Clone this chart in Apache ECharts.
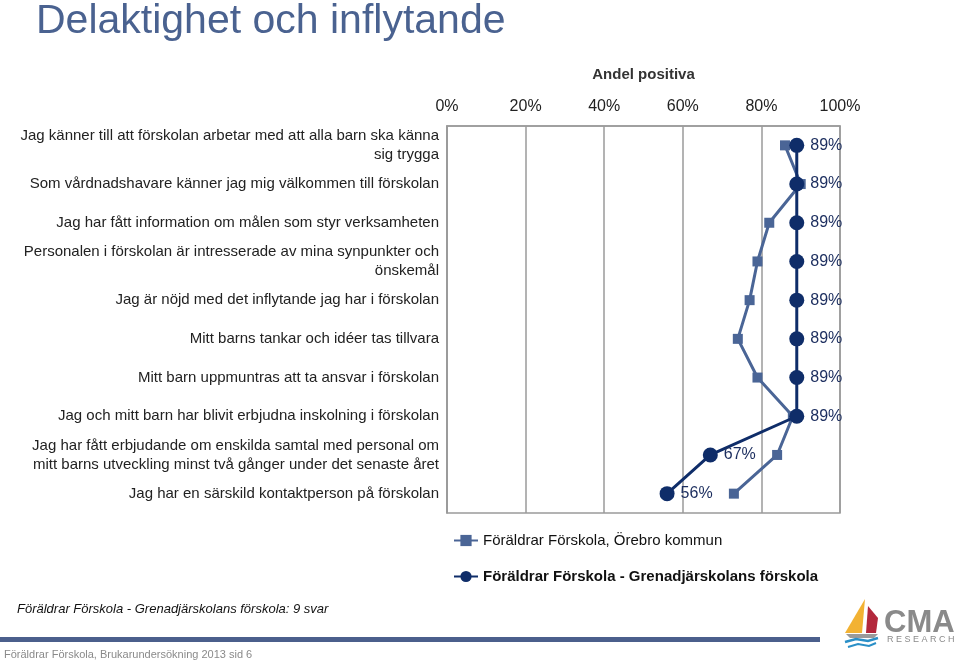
<!DOCTYPE html>
<html><head><meta charset="utf-8">
<script src="https://cdn.jsdelivr.net/npm/echarts@6/dist/echarts.min.js"></script>
<style>html,body{margin:0;padding:0;background:#fff}#c{width:960px;height:662px}</style>
</head><body><div id="c"></div>
<script>
const categories = [
  "Jag känner till att förskolan arbetar med att alla barn ska känna\nsig trygga",
  "Som vårdnadshavare känner jag mig välkommen till förskolan",
  "Jag har fått information om målen som styr verksamheten",
  "Personalen i förskolan är intresserade av mina synpunkter och\nönskemål",
  "Jag är nöjd med det inflytande jag har i förskolan",
  "Mitt barns tankar och idéer tas tillvara",
  "Mitt barn uppmuntras att ta ansvar i förskolan",
  "Jag och mitt barn har blivit erbjudna inskolning i förskolan",
  "Jag har fått erbjudande om enskilda samtal med personal om\nmitt barns utveckling minst två gånger under det senaste året",
  "Jag har en särskild kontaktperson på förskolan"
];
const seriesNames = ["Föräldrar Förskola, Örebro kommun", "Föräldrar Förskola - Grenadjärskolans förskola"];
const orebroValues = [86, 90, 82, 79, 77, 74, 79, 88, 84, 73];
const grenadjarValues = [89, 89, 89, 89, 89, 89, 89, 89, 67, 56];
const xTicks = [0, 20, 40, 60, 80, 100];

const font = "'Liberation Sans', Arial, sans-serif";
const chart = echarts.init(document.getElementById('c'), null, {renderer: 'canvas'});
chart.setOption({
  animation: false,
  textStyle: {fontFamily: font},
  title: {
    text: 'Delaktighet och inflytande', left: 31, top: -4,
    textStyle: {fontFamily: font, fontSize: 41, fontWeight: 'normal', color: '#4a6290'}
  },
  grid: {left: 447, top: 126, width: 393, height: 387, show: true, borderColor: '#9a9a9a', borderWidth: 1.5, containLabel: false},
  xAxis: {
    type: 'value', position: 'top', min: xTicks[0], max: xTicks[xTicks.length - 1], interval: 20,
    name: 'Andel positiva', nameLocation: 'middle', nameGap: 44,
    nameTextStyle: {fontFamily: font, fontSize: 15, fontWeight: 'bold', color: '#333'},
    axisLine: {show: true, lineStyle: {color: '#9a9a9a', width: 1.5}},
    axisTick: {show: false},
    splitLine: {show: true, lineStyle: {color: '#9a9a9a', width: 1.5}},
    axisLabel: {formatter: '{value}%', fontFamily: font, fontSize: 16, color: '#222', margin: 11}
  },
  yAxis: {
    type: 'category', inverse: true, data: categories,
    axisLine: {show: true, lineStyle: {color: '#9a9a9a', width: 1.5}},
    axisTick: {show: false},
    splitLine: {show: false},
    axisLabel: {fontFamily: font, fontSize: 15, color: '#222', margin: 8, lineHeight: 19, align: 'right'}
  },
  legend: {
    orient: 'vertical', left: 448, top: 528, itemGap: 21, itemWidth: 24, itemHeight: 14,
    textStyle: {fontFamily: font, fontSize: 15, color: '#111'},
    data: [
      {name: seriesNames[0]},
      {name: seriesNames[1], textStyle: {fontWeight: 'bold', fontFamily: font, fontSize: 15, color: '#111'}}
    ]
  },
  series: [
    {
      name: seriesNames[0], type: 'line', data: orebroValues,
      symbol: 'rect', symbolSize: 10,
      lineStyle: {color: '#4a6596', width: 3},
      itemStyle: {color: '#4a6596'},
      z: 2
    },
    {
      name: seriesNames[1], type: 'line', data: grenadjarValues,
      symbol: 'circle', symbolSize: 15,
      lineStyle: {color: '#0f2d69', width: 3},
      itemStyle: {color: '#0f2d69'},
      label: {show: true, position: 'right', distance: 6, formatter: '{c}%', fontFamily: font, fontSize: 16, color: '#1b2d5e'},
      z: 3
    }
  ],
  graphic: [
    {type: 'text', left: 17, top: 603, style: {text: 'Föräldrar Förskola - Grenadjärskolans förskola: 9 svar', font: 'italic 13px ' + font, fill: '#111'}},
    {type: 'rect', shape: {x: 0, y: 637, width: 820, height: 5}, style: {fill: '#4b5f8c'}},
    {type: 'text', left: 4, top: 649, style: {text: 'Föräldrar Förskola, Brukarundersökning 2013 sid 6', font: '11px ' + font, fill: '#8a8a8a'}},
    {type: 'polygon', shape: {points: [[865, 599], [845, 633], [862, 633]]}, style: {fill: '#f2b233'}},
    {type: 'polygon', shape: {points: [[868, 606], [878, 618], [876, 633], [866, 633]]}, style: {fill: '#b3283c'}},
    {type: 'polygon', shape: {points: [[846, 634], [878, 634], [874, 638], [850, 638]]}, style: {fill: '#9a9a9a'}},
    {type: 'polyline', shape: {points: [[845, 642], [856, 639], [868, 641], [878, 638]]}, style: {stroke: '#2a8fc7', lineWidth: 2.5, fill: null}},
    {type: 'polyline', shape: {points: [[848, 647], [858, 644], [869, 646], [876, 643]]}, style: {stroke: '#2a8fc7', lineWidth: 2, fill: null}},
    {type: 'text', left: 884, top: 608, style: {text: 'CMA', font: 'bold 31px ' + font, fill: '#8a8a8a'}},
    {type: 'text', left: 887, top: 635, style: {text: 'R E S E A R C H', font: '9px ' + font, fill: '#8a8a8a'}}
  ]
});
</script>
</body></html>
